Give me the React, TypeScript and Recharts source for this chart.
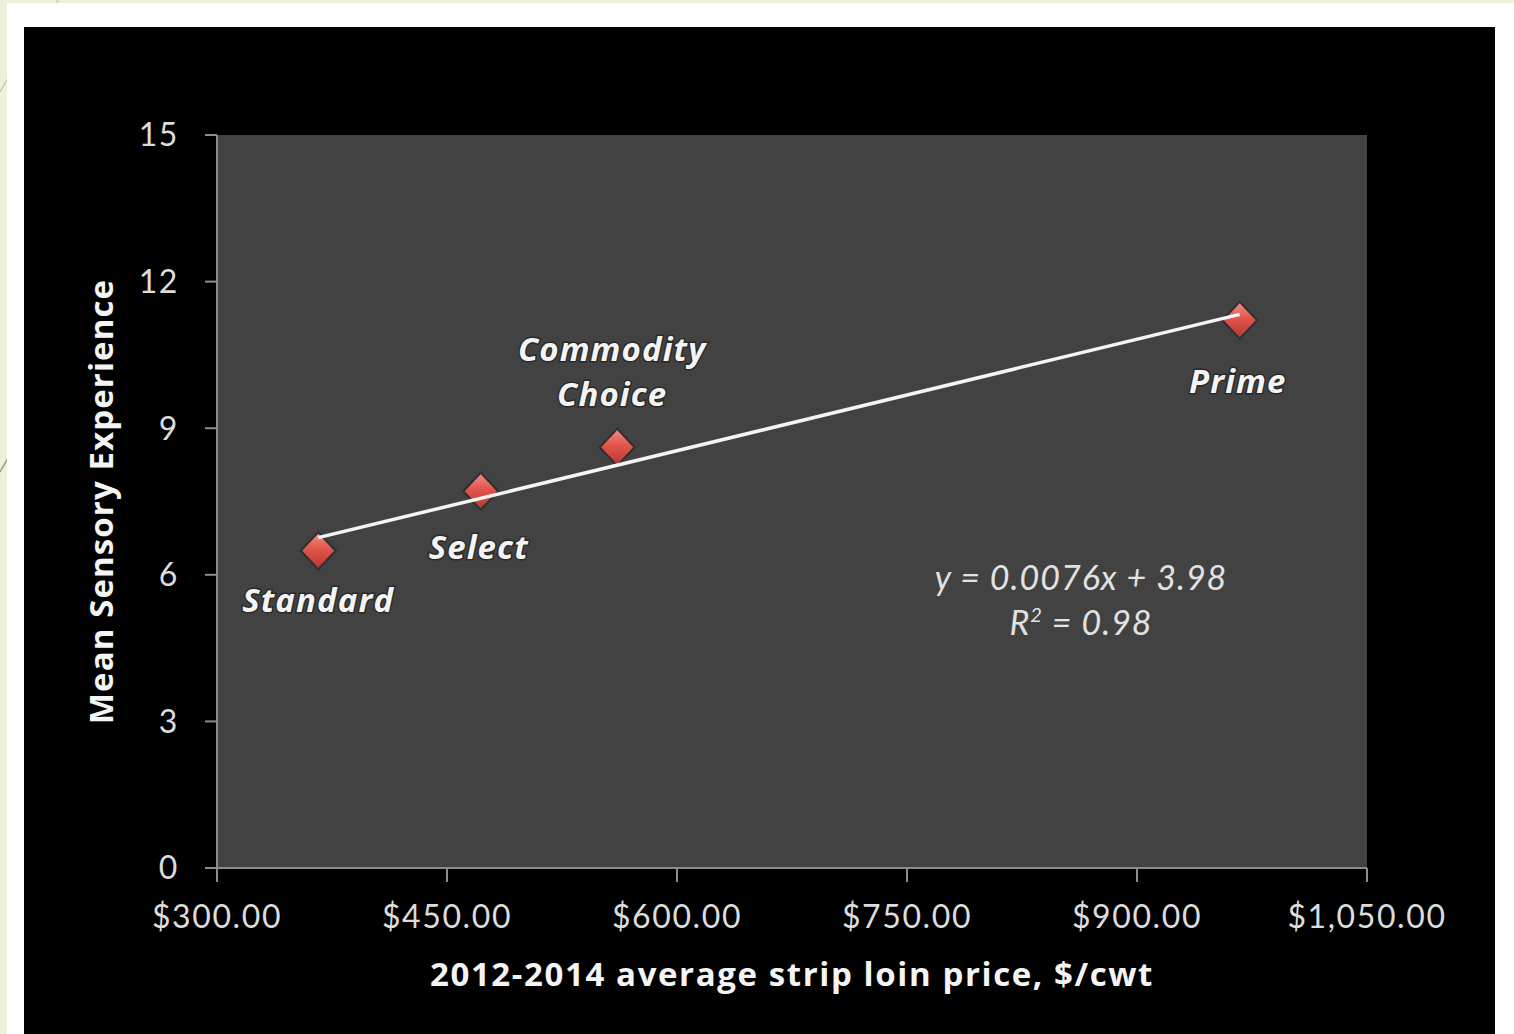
import React from 'react';
import {
  ScatterChart,
  Scatter,
  XAxis,
  YAxis,
  ReferenceArea,
} from 'recharts';

// values
const gradeNames = ['Standard', 'Select', 'Commodity Choice', 'Prime'];
const gradePrices = [366, 472, 561, 967];
const gradeSensory = [6.49, 7.71, 8.61, 11.21];

// fitted line y = 0.0076x + 3.98, end points as drawn
const trendPrices = [366, 967];
const trendSensory = [6.76, 11.33];

const xTicks = [300, 450, 600, 750, 900, 1050];
const yTicks = [0, 3, 6, 9, 12, 15];

const points = gradeNames.map((name, i) => ({ name, x: gradePrices[i], y: gradeSensory[i] }));
const trend = trendPrices.map((x, i) => ({ x, y: trendSensory[i] }));

// where each point label sits, relative to its marker (px)
const labelPlacement: Record<string, { dx: number; lines: { text: string; dy: number }[] }> = {
  Standard: { dx: 0, lines: [{ text: 'Standard', dy: 49 }] },
  Select: { dx: -2, lines: [{ text: 'Select', dy: 55 }] },
  'Commodity Choice': {
    dx: -5,
    lines: [
      { text: 'Commodity', dy: -99 },
      { text: 'Choice', dy: -54 },
    ],
  },
  Prime: { dx: -2, lines: [{ text: 'Prime', dy: 60 }] },
};

const FONT = 'Lato, "Open Sans", sans-serif';
const BOLD_FONT = '"Open Sans", Lato, sans-serif';
const AXIS = '#8c8c8c';
const TICK_TEXT = '#dcdcdc';

const money = (v: number) =>
  `$${v.toLocaleString('en-US', { minimumFractionDigits: 2, maximumFractionDigits: 2 })}`;

const DiamondPoint = (props: any) => {
  const { cx, cy, payload } = props;
  if (cx == null || cy == null) return <g />;
  const w = 16;
  const h = 17;
  const place = labelPlacement[payload.name];
  return (
    <g>
      <polygon
        points={`${cx},${cy - h - 3} ${cx + w + 3},${cy} ${cx},${cy + h + 3} ${cx - w - 3},${cy}`}
        fill="#1e1e1e"
        opacity={0.5}
      />
      <polygon
        points={`${cx},${cy - h} ${cx + w},${cy} ${cx},${cy + h} ${cx - w},${cy}`}
        fill="url(#diamondFill)"
      />
      {place &&
        place.lines.map((ln) => (
          <text
            key={ln.text}
            x={cx + place.dx}
            y={cy + ln.dy}
            textAnchor="middle"
            dominantBaseline="central"
            fill="#f4f4f4"
            fontFamily={BOLD_FONT}
            fontStyle="italic"
            fontWeight={700}
            fontSize={33}
            letterSpacing={1.1}
            style={{ paintOrder: 'stroke', stroke: '#2a2a2a', strokeWidth: 3 }}
          >
            {ln.text}
          </text>
        ))}
    </g>
  );
};

const NoShape = () => <g />;

export default function App() {
  return (
    <div
      style={{
        position: 'absolute',
        left: 0,
        top: 0,
        width: 1514,
        height: 1034,
        background: '#eef0db',
        overflow: 'hidden',
      }}
    >
      <svg width={1514} height={1034} style={{ position: 'absolute', left: 0, top: 0 }}>
        <path d="M58,0 Q30,40 0,92" stroke="#c9cca8" strokeWidth={1.5} fill="none" />
        <path d="M30,420 L0,472" stroke="#9a9c86" strokeWidth={1.5} fill="none" />
      </svg>
      <div
        style={{
          position: 'absolute',
          left: 7,
          top: 3,
          width: 1507,
          height: 1031,
          background: '#ffffff',
        }}
      />
      <div
        style={{
          position: 'absolute',
          left: 24,
          top: 27,
          width: 1471,
          height: 1007,
          background: '#000000',
        }}
      >
        <ScatterChart
          width={1471}
          height={1007}
          margin={{ top: 108, right: 128, bottom: 36, left: 73 }}
        >
          <defs>
            <linearGradient id="diamondFill" x1="0" y1="0" x2="0" y2="1">
              <stop offset="0%" stopColor="#f08a80" />
              <stop offset="45%" stopColor="#e2544a" />
              <stop offset="100%" stopColor="#b83a32" />
            </linearGradient>
          </defs>
          <ReferenceArea
            x1={300}
            x2={1050}
            y1={0}
            y2={15}
            fill="#424242"
            fillOpacity={1}
            stroke="none"
          />
          <XAxis
            type="number"
            dataKey="x"
            domain={[300, 1050]}
            ticks={xTicks}
            tickFormatter={money}
            height={130}
            allowDataOverflow
            stroke={AXIS}
            strokeWidth={2}
            tickSize={14}
            tickMargin={23}
            tick={{ fill: TICK_TEXT, fontSize: 32, fontFamily: FONT, letterSpacing: 1.6 }}
            label={{
              value: '2012-2014 average strip loin price, $/cwt',
              position: 'insideBottom',
              offset: 12,
              fill: '#f4f4f4',
              fontSize: 33,
              fontWeight: 700,
              fontFamily: BOLD_FONT,
              letterSpacing: 1.6,
            }}
          />
          <YAxis
            type="number"
            dataKey="y"
            domain={[0, 15]}
            ticks={yTicks}
            width={120}
            allowDataOverflow
            stroke={AXIS}
            strokeWidth={2}
            tickSize={12}
            tickMargin={26}
            tick={{ fill: TICK_TEXT, fontSize: 32, fontFamily: FONT, letterSpacing: 1.6 }}
            label={{
              value: 'Mean Sensory Experience',
              angle: -90,
              position: 'insideLeft',
              offset: 4,
              fill: '#f4f4f4',
              fontSize: 33,
              fontWeight: 700,
              fontFamily: BOLD_FONT,
              letterSpacing: 1.1,
              style: { textAnchor: 'middle' },
            }}
          />
          <Scatter data={points} shape={DiamondPoint} isAnimationActive={false} />
          <Scatter
            data={trend}
            line={{ stroke: '#f4f4f4', strokeWidth: 3.5 }}
            shape={NoShape}
            isAnimationActive={false}
          />
        </ScatterChart>
        <div
          style={{
            position: 'absolute',
            left: 1081 - 24 - 200,
            top: 554 - 27,
            width: 400,
            textAlign: 'center',
            color: '#e2e2e2',
            fontFamily: FONT,
            fontStyle: 'italic',
            fontSize: 34,
            letterSpacing: 1,
            lineHeight: '45px',
          }}
        >
          <div>y = 0.0076x + 3.98</div>
          <div>
            R<sup style={{ fontSize: 20, verticalAlign: 'top', lineHeight: '30px' }}>2</sup> = 0.98
          </div>
        </div>
      </div>
    </div>
  );
}
